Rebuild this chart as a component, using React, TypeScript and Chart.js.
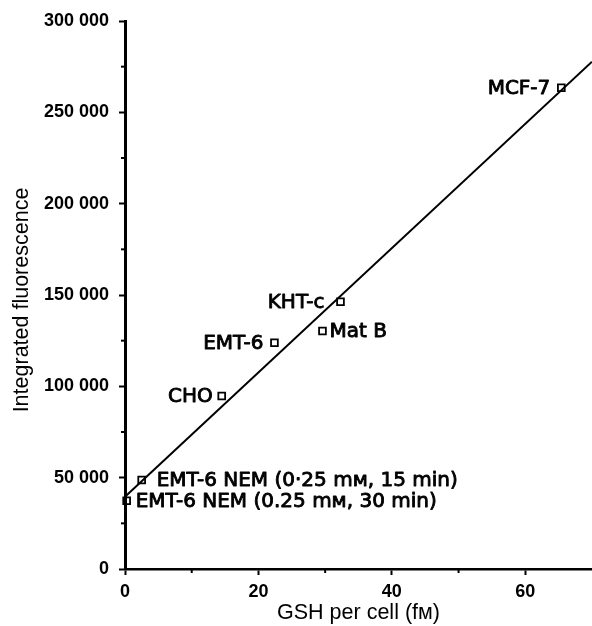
import React, { useEffect, useRef } from 'react';
import { Chart, registerables } from 'chart.js';

Chart.register(...registerables);

// ---- data ----
const cellLines = [
  'MCF-7',
  'KHT-c',
  'Mat B',
  'EMT-6',
  'CHO',
  'EMT-6 NEM (0·25 mм, 15 min)',
  'EMT-6 NEM (0.25 mм, 30 min)',
];
const gshPerCell = [65.4, 32.3, 29.6, 22.4, 14.5, 2.5, 0.25];
const fluorescence = [263500, 146300, 130300, 123900, 94700, 48700, 37400];

const fitGsh = [0, 70];
const fitFluorescence = [39600, 277700];

const xMajorTicks = [0, 20, 40, 60];
const xTickLabels = ['0', '20', '40', '60'];
const xMinorTicks = [10, 30, 50];
const yMajorTicks = [0, 50000, 100000, 150000, 200000, 250000, 300000];
const yTickLabels = ['0', '50 000', '100 000', '150 000', '200 000', '250 000', '300 000'];
const yMinorTicks = [25000, 75000, 125000, 175000, 225000, 275000];

const xTitle = 'GSH per cell (fм)';
const yTitle = 'Integrated fluorescence';

// ---- label styling (side of point, gap in px) ----
const labelSide = ['left', 'left', 'right', 'left', 'left', 'right', 'right'];
const labelGap = [11, 16, 7, 11, 9, 15, 9];

const FONT = '"Liberation Sans", Arial, Helvetica, sans-serif';
const LABEL_FONT = '"DejaVu Sans", "Liberation Sans", sans-serif';

const minorTicksPlugin = {
  id: 'minorTicks',
  afterDraw(chart: any) {
    const ctx = chart.ctx;
    const xs = chart.scales.x;
    const ys = chart.scales.y;
    const { left, bottom } = chart.chartArea;
    ctx.save();
    ctx.strokeStyle = '#000';
    ctx.lineWidth = 2;
    yMinorTicks.forEach((v) => {
      const y = ys.getPixelForValue(v);
      ctx.beginPath();
      ctx.moveTo(left - 1, y);
      ctx.lineTo(left - 4, y);
      ctx.stroke();
    });
    xMinorTicks.forEach((v) => {
      const x = xs.getPixelForValue(v);
      ctx.beginPath();
      ctx.moveTo(x, bottom + 1);
      ctx.lineTo(x, bottom + 4);
      ctx.stroke();
    });
    ctx.restore();
  },
};

const pointLabelsPlugin = {
  id: 'pointLabels',
  afterDatasetsDraw(chart: any) {
    const ctx = chart.ctx;
    const meta = chart.getDatasetMeta(1);
    ctx.save();
    ctx.fillStyle = '#000';
    ctx.strokeStyle = '#000';
    ctx.lineWidth = 0.9;
    ctx.lineJoin = 'round';
    ctx.font = `20px ${LABEL_FONT}`;
    ctx.textBaseline = 'middle';
    meta.data.forEach((pt: any, i: number) => {
      const side = labelSide[i];
      const gap = labelGap[i];
      ctx.textAlign = side === 'left' ? 'right' : 'left';
      const x = side === 'left' ? pt.x - gap : pt.x + gap;
      ctx.fillText(cellLines[i], x, pt.y + 1);
      ctx.strokeText(cellLines[i], x, pt.y + 1);
    });
    ctx.restore();
  },
};

const yTitlePlugin = {
  id: 'yTitle',
  afterDraw(chart: any) {
    const ctx = chart.ctx;
    const ys = chart.scales.y;
    ctx.save();
    ctx.fillStyle = '#000';
    ctx.font = `21.5px ${FONT}`;
    ctx.textAlign = 'center';
    ctx.textBaseline = 'middle';
    ctx.translate(22, (ys.top + ys.bottom) / 2 + 5);
    ctx.rotate(-Math.PI / 2);
    ctx.fillText(yTitle, 0, 0);
    ctx.restore();
  },
};

export default function App() {
  const canvasRef = useRef<HTMLCanvasElement | null>(null);

  useEffect(() => {
    const canvas = canvasRef.current;
    if (!canvas) return;
    const chart = new Chart(canvas, {
      type: 'scatter',
      data: {
        datasets: [
          {
            type: 'line',
            data: fitGsh.map((x, i) => ({ x, y: fitFluorescence[i] })),
            borderColor: '#000',
            borderWidth: 2,
            pointRadius: 0,
            fill: false,
            clip: false as any,
          } as any,
          {
            type: 'scatter',
            data: gshPerCell.map((x, i) => ({ x, y: fluorescence[i] })),
            pointStyle: 'rect',
            pointRadius: 4.8,
            borderColor: '#000',
            borderWidth: 1.8,
            backgroundColor: 'rgba(0,0,0,0)',
            clip: false as any,
          } as any,
        ],
      },
      options: {
        animation: false,
        responsive: false,
        events: [],
        layout: { autoPadding: false, padding: { top: 21, right: 0, bottom: 0, left: 0 } },
        plugins: {
          legend: { display: false },
          tooltip: { enabled: false },
        },
        scales: {
          x: {
            type: 'linear',
            min: 0,
            max: 70,
            afterFit: (s: any) => {
              s.height = 57;
            },
            afterBuildTicks: (s: any) => {
              s.ticks = xMajorTicks.map((v) => ({ value: v }));
            },
            ticks: {
              callback: (_v: any, i: number) => xTickLabels[i],
              font: { family: FONT, size: 18, weight: 'bold' },
              color: '#000',
              padding: 6,
              maxRotation: 0,
              includeBounds: false,
            },
            grid: {
              drawOnChartArea: false,
              drawTicks: true,
              tickLength: 6,
              tickColor: '#000',
              tickWidth: 2,
            },
            border: { display: true, color: '#000', width: 2.5 },
            title: {
              display: true,
              text: xTitle,
              color: '#000',
              font: { family: FONT, size: 21.5 },
              padding: { top: 0, bottom: 0 },
            },
          },
          y: {
            type: 'linear',
            min: 0,
            max: 300000,
            afterFit: (s: any) => {
              s.width = 125;
            },
            afterBuildTicks: (s: any) => {
              s.ticks = yMajorTicks.map((v) => ({ value: v }));
            },
            ticks: {
              callback: (_v: any, i: number) => yTickLabels[i],
              font: { family: FONT, size: 18, weight: 'bold' },
              color: '#000',
              padding: 10,
              includeBounds: false,
            },
            grid: {
              drawOnChartArea: false,
              drawTicks: true,
              tickLength: 6,
              tickColor: '#000',
              tickWidth: 2,
            },
            border: { display: true, color: '#000', width: 3 },
            title: { display: false },
          },
        },
      },
      plugins: [minorTicksPlugin, pointLabelsPlugin, yTitlePlugin],
    });
    return () => chart.destroy();
  }, []);

  return (
    <div style={{ position: 'absolute', left: 0, top: 0, width: 592, height: 626, background: '#fff' }}>
      <canvas ref={canvasRef} width={592} height={626} style={{ display: 'block' }} />
    </div>
  );
}
